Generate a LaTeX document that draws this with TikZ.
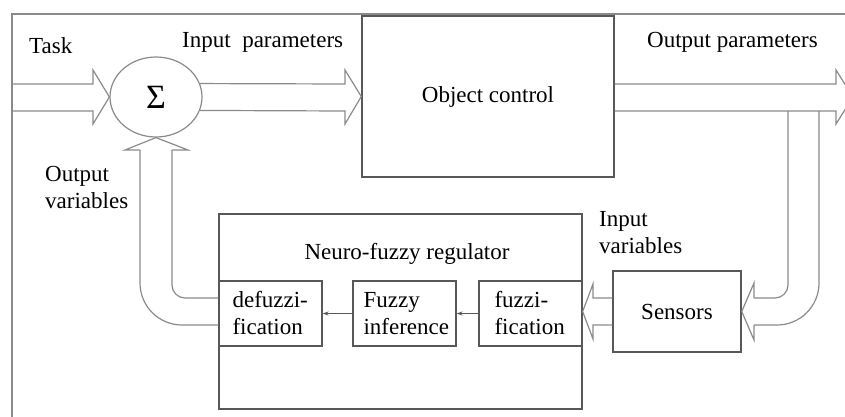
\documentclass[tikz,border=0pt]{standalone}
\usepackage{fontspec}
\setmainfont{Liberation Serif}
\newfontfamily\labelfont{Liberation Serif}
\usetikzlibrary{shapes.geometric,calc,arrows.meta}
\definecolor{boxline}{HTML}{585858}
\definecolor{pipeline}{HTML}{8A8A8A}
\begin{document}
\begin{tikzpicture}[x=1pt,y=-1pt,
  every node/.style={font=\labelfont\fontsize{23}{27}\selectfont},
  block/.style={draw=boxline,line width=1.5pt,inner sep=0pt},
  subblock/.style={draw=boxline,line width=1.3pt,minimum width=103pt,minimum height=65pt,inner sep=0pt},
  stagetext/.style={anchor=west,inner sep=0pt,align=left},
  hollow/.style={draw=pipeline,line width=1.2pt,line join=miter},
  link/.style={draw=boxline,line width=1.1pt,-{Stealth[length=6pt,width=4pt]}},
  caption/.style={anchor=west,inner sep=0pt,align=left}]
\useasboundingbox (0,0) rectangle (845,417);

% outer frame
\draw[draw=pipeline,line width=1.4pt] (12,417) -- (12,14) -- (845,14);

% summing junction and plant
\node[ellipse,draw=pipeline,line width=1.2pt,minimum width=92pt,minimum height=80pt,inner sep=0pt,
      font=\labelfont\fontsize{34}{34}\selectfont] (sum) at (156,97) {Σ};
\node[block,minimum width=252pt,minimum height=161pt] (obj) at (488,96.5) {Object control};
\node[block,minimum width=128pt,minimum height=81pt] (sens) at (677,311.5) {Sensors};

% regulator with its three stages
\node[block,minimum width=363pt,minimum height=195pt] (reg) at (400.5,311.5) {};
\node[inner sep=0pt] (regtitle) at (407,254) {Neuro-fuzzy regulator};
\node[subblock] (defuz) at (270.5,313.5) {};
\node[subblock] (infer) at (404.5,313.5) {};
\node[subblock] (fuz) at (530.5,313.5) {};
\node[stagetext] (defuzt) at ($(defuz.west)+(14,0)$) {defuzzi-\\fication};
\node[stagetext] (infert) at ($(infer.west)+(11,0)$) {Fuzzy\\inference};
\node[stagetext] (fuzt) at ($(fuz.west)+(16,0)$) {fuzzi-\\fication};
\draw[link] (fuz.west) -- (infer.east);
\draw[link] (infer.west) -- (defuz.east);

% labels
\node[caption] (ltask) at (29,46) {Task};
\node[caption] (linp) at (182,42) {Input~~parameters};
\node[caption] (loutp) at (647,42) {Output parameters};
\node[caption] (loutv) at (45,187) {Output\\variables};
\node[caption] (linv) at (599,233) {Input\\variables};

% task into the summing junction
\coordinate (taskin) at (13,97);
\draw[hollow] (taskin |- 0,84) -- (93,84) -- (93,70) -- (sum.west) -- (93,124) -- (93,111) -- (taskin |- 0,111);

% input parameters into the plant
\draw[hollow] (sum.17) -- (345,84) -- (345,70) -- (obj.west) -- (345,124) -- (345,111) -- (sum.-17);

% output parameters leaving the plant
\coordinate (outtip) at (853,97);
\draw[hollow] (obj.east |- 0,84) -- (836,84) -- (836,70) -- (outtip) -- (836,124) -- (836,111) -- (obj.east |- 0,111);

% measured output routed to the sensors
\draw[hollow,rounded corners=13pt] (788,111) -- (788,298) -- (754,298);
\draw[hollow,rounded corners=42pt] (819,111) -- (819,325) -- (754,325);
\draw[hollow] (754,298) -- (754,283) -- (sens.east) -- (754,340) -- (754,325);

% sensors into fuzzification
\draw[hollow] (sens.west |- 0,298) -- (593,298) -- (593,284) -- (fuz.east |- sens.west) -- (593,339) -- (593,325) -- (sens.west |- 0,325);

% regulator output back to the summing junction
\draw[hollow,rounded corners=13pt] (defuz.west |- 0,298) -- (172,298) -- (172,150);
\draw[hollow,rounded corners=42pt] (defuz.west |- 0,325) -- (140,325) -- (140,150);
\draw[hollow] (172,150) -- (188,150) -- (sum.south) -- (125,150) -- (140,150);
\end{tikzpicture}
\end{document}
